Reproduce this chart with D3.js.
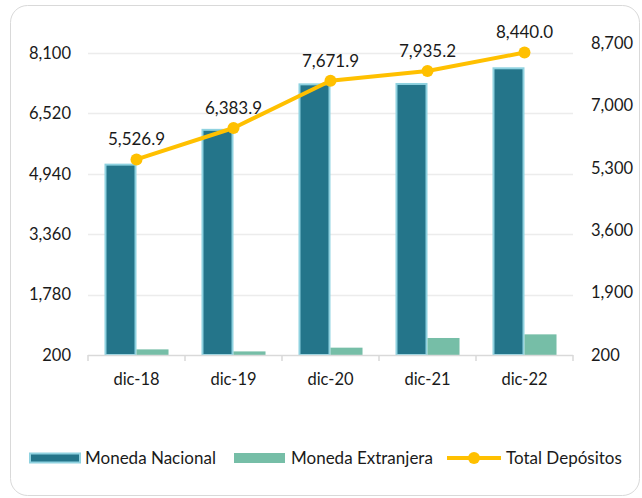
<!DOCTYPE html>
<html>
<head>
<meta charset="utf-8">
<script src="https://cdn.jsdelivr.net/npm/d3@7"></script>
<style>
  body { margin: 0; background: #fff; }
  text { font-family: Lato, "Open Sans", sans-serif; fill: #1a1a1a; }
</style>
</head>
<body>
<div id="chart"></div>
<script>
// data
var years = ["dic-18", "dic-19", "dic-20", "dic-21", "dic-22"]
var nacional = [5180, 6090, 7280, 7290, 7700]
var extranjera = [347, 294, 392, 645, 740]
var total = [5526.9, 6383.9, 7671.9, 7935.2, 8440.0]
var leftTicks = [200, 1780, 3360, 4940, 6520, 8100]
var rightTicks = [200, 1900, 3600, 5300, 7000, 8700]

var W = 642, H = 498
var nf = d3.format(",")
var lf = d3.format(",.1f")

var svg = d3.select("#chart")
    .append("svg")
    .attr("width", W)
    .attr("height", H)

// outer frame
svg.append("rect")
    .attr("x", 10.5)
    .attr("y", 5.5)
    .attr("width", 629)
    .attr("height", 490)
    .attr("rx", 17)
    .attr("fill", "#fff")
    .attr("stroke", "#d9d9d9")
    .attr("stroke-width", 1)

var x = d3.scaleBand()
    .domain(years)
    .range([88, 573])
    .paddingInner(0.34)
    .paddingOuter(0.17)

var xCat = d3.scaleBand()
    .domain(years)
    .range([88, 573])

var x1 = d3.scaleBand()
    .domain(["nac", "ext"])
    .range([0, x.bandwidth()])

var yL = d3.scaleLinear().domain([200, 8100]).range([355, 53])
var yR = d3.scaleLinear().domain([200, 8700]).range([355, 43])

// gridlines
svg.append("g")
    .selectAll("line")
    .data(leftTicks.slice(1))
    .enter()
    .append("line")
    .attr("x1", 88)
    .attr("x2", 573)
    .attr("y1", d => Math.round(yL(d)) + 0.5)
    .attr("y2", d => Math.round(yL(d)) + 0.5)
    .attr("stroke", "#ececec")
    .attr("stroke-width", 1.5)

// left axis labels
svg.append("g")
    .selectAll("text")
    .data(leftTicks)
    .enter()
    .append("text")
    .attr("x", 71)
    .attr("y", d => yL(d))
    .attr("dy", "0.35em")
    .attr("text-anchor", "end")
    .style("font-size", "16.5px")
    .text(d => nf(d))

// right axis labels
svg.append("g")
    .selectAll("text")
    .data(rightTicks)
    .enter()
    .append("text")
    .attr("x", 591)
    .attr("y", d => yR(d))
    .attr("dy", "0.35em")
    .attr("text-anchor", "start")
    .style("font-size", "16.5px")
    .text(d => nf(d))

// bars
var groups = svg.append("g")
    .selectAll("g")
    .data(years)
    .enter()
    .append("g")
    .attr("transform", d => "translate(" + x(d) + ",0)")

groups.append("rect")
    .attr("x", x1("nac") + 1)
    .attr("width", x1.bandwidth() - 2)
    .attr("y", (d, i) => yL(nacional[i]))
    .attr("height", (d, i) => yL(200) - yL(nacional[i]))
    .attr("fill", "#24758a")
    .attr("stroke", "#8fd2e0")
    .attr("stroke-width", 2)

groups.append("rect")
    .attr("x", x1("ext"))
    .attr("width", x1.bandwidth())
    .attr("y", (d, i) => yL(extranjera[i]))
    .attr("height", (d, i) => yL(200) - yL(extranjera[i]))
    .attr("fill", "#76bea7")

// x axis
svg.append("line")
    .attr("x1", 88)
    .attr("x2", 573)
    .attr("y1", 355.5)
    .attr("y2", 355.5)
    .attr("stroke", "#d9d9d9")
    .attr("stroke-width", 1.5)

svg.append("g")
    .selectAll("line")
    .data(years.concat(["end"]))
    .enter()
    .append("line")
    .attr("x1", (d, i) => i < years.length ? xCat(d) : 573)
    .attr("x2", (d, i) => i < years.length ? xCat(d) : 573)
    .attr("y1", 355)
    .attr("y2", 361)
    .attr("stroke", "#d9d9d9")
    .attr("stroke-width", 1.5)

svg.append("g")
    .selectAll("text")
    .data(years)
    .enter()
    .append("text")
    .attr("x", d => xCat(d) + xCat.bandwidth() / 2)
    .attr("y", 379)
    .attr("dy", "0.35em")
    .attr("text-anchor", "middle")
    .style("font-size", "16.5px")
    .text(d => d)

// total line
var cx = d => x(d) + x.bandwidth() / 2
var line = d3.line()
    .x((d, i) => cx(years[i]))
    .y(d => yR(d))

svg.append("path")
    .datum(total)
    .attr("d", line)
    .attr("fill", "none")
    .attr("stroke", "#ffc000")
    .attr("stroke-width", 4)
    .attr("stroke-linejoin", "round")

svg.append("g")
    .selectAll("circle")
    .data(total)
    .enter()
    .append("circle")
    .attr("cx", (d, i) => cx(years[i]))
    .attr("cy", d => yR(d))
    .attr("r", 6)
    .attr("fill", "#ffc000")

svg.append("g")
    .selectAll("text")
    .data(total)
    .enter()
    .append("text")
    .attr("x", (d, i) => cx(years[i]))
    .attr("y", d => yR(d) - 20)
    .attr("dy", "0.35em")
    .attr("text-anchor", "middle")
    .style("font-size", "17px")
    .text(d => lf(d))

// legend
var legend = svg.append("g")

legend.append("rect")
    .attr("x", 30).attr("y", 453.5)
    .attr("width", 50).attr("height", 9)
    .attr("fill", "#24758a")
    .attr("stroke", "#8fd2e0")
    .attr("stroke-width", 2)

legend.append("text")
    .attr("x", 85).attr("y", 458)
    .attr("dy", "0.35em")
    .style("font-size", "17px")
    .text("Moneda Nacional")

legend.append("rect")
    .attr("x", 234).attr("y", 453)
    .attr("width", 51).attr("height", 10)
    .attr("fill", "#76bea7")

legend.append("text")
    .attr("x", 291).attr("y", 458)
    .attr("dy", "0.35em")
    .style("font-size", "17px")
    .text("Moneda Extranjera")

legend.append("line")
    .attr("x1", 447).attr("x2", 501)
    .attr("y1", 458).attr("y2", 458)
    .attr("stroke", "#ffc000")
    .attr("stroke-width", 4)

legend.append("circle")
    .attr("cx", 474).attr("cy", 458)
    .attr("r", 6)
    .attr("fill", "#ffc000")

legend.append("text")
    .attr("x", 506).attr("y", 458)
    .attr("dy", "0.35em")
    .style("font-size", "17px")
    .text("Total Depósitos")
</script>
</body>
</html>
